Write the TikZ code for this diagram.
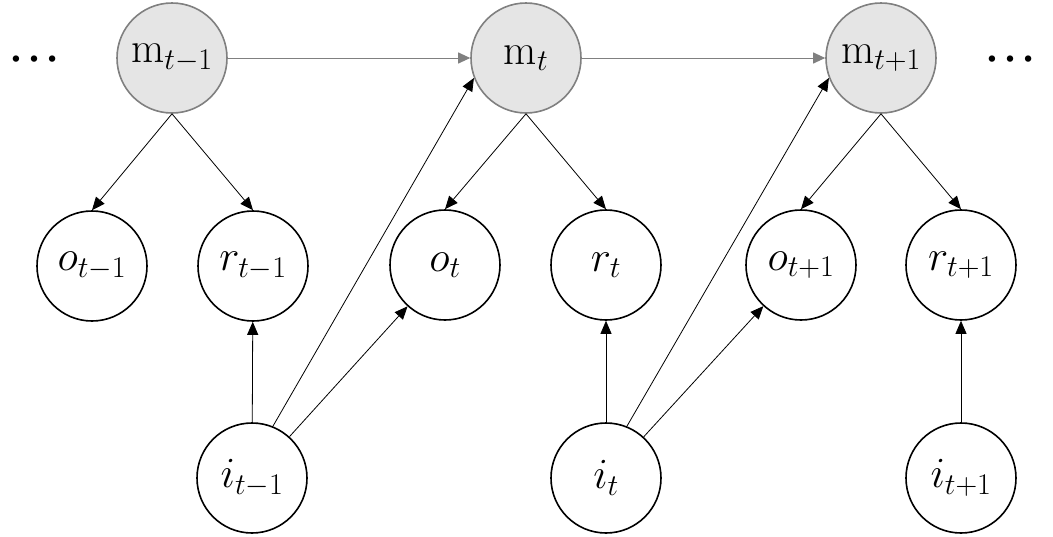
\RequirePackage{fix-cm}
\documentclass[tikz,border=0pt]{standalone}
\usepackage{fontspec}
\newfontfamily\dotsfont{Liberation Serif}
\usetikzlibrary{arrows.meta}
\begin{document}
\begin{tikzpicture}[x=1pt,y=-1pt,
  var/.style={circle, draw=black, line width=1.6pt, minimum size=110pt, inner sep=0pt, font=\fontsize{43}{48}\selectfont},
  mem/.style={var, draw=black!50, fill=black!10},
  edge/.style={line width=0.8pt, draw=black, -{Triangle[length=13pt,width=11pt]}},
  gedge/.style={line width=1pt, draw=black!50, -{Triangle[length=12pt,width=11pt]}},
  dotsnode/.style={anchor=base, inner sep=0pt, font=\dotsfont\fontsize{54}{60}\selectfont}
]
\useasboundingbox (0,0) rectangle (1053,536);
% memory nodes
\node[mem] (m1) at (172,58) {$\mathrm{m}_{t-1}$};
\node[mem] (m2) at (526,58) {$\mathrm{m}_{t}$};
\node[mem] (m3) at (881,58) {$\mathrm{m}_{t+1}$};
% observation / reward nodes
\node[var] (o1) at (92,266) {$o_{t-1}$};
\node[var] (r1) at (253,266) {$r_{t-1}$};
\node[var] (o2) at (445,265) {$o_{t}$};
\node[var] (r2) at (606,265) {$r_{t}$};
\node[var] (o3) at (801,265) {$o_{t+1}$};
\node[var] (r3) at (961,265) {$r_{t+1}$};
% input nodes
\node[var] (i1) at (252,478) {$i_{t-1}$};
\node[var] (i2) at (606,478) {$i_{t}$};
\node[var] (i3) at (961,478) {$i_{t+1}$};
% dots
\node[dotsnode] (dl) at (35,61) {…};
\node[dotsnode] (dr) at (1010,61) {…};
% memory chain
\draw[gedge] (m1) -- (m2);
\draw[gedge] (m2) -- (m3);
% memory to outputs
\draw[edge] (m1.south) -- (o1.north);
\draw[edge] (m1.south) -- (r1.north);
\draw[edge] (m2.south) -- (o2.north);
\draw[edge] (m2.south) -- (r2.north);
\draw[edge] (m3.south) -- (o3.north);
\draw[edge] (m3.south) -- (r3.north);
% inputs
\draw[edge] (i1) -- (r1);
\draw[edge] (i1.68) -- (m2.201);
\draw[edge] (i1) -- (o2);
\draw[edge] (i2) -- (r2);
\draw[edge] (i2.68) -- (m3.201);
\draw[edge] (i2) -- (o3);
\draw[edge] (i3) -- (r3);
\end{tikzpicture}
\end{document}
